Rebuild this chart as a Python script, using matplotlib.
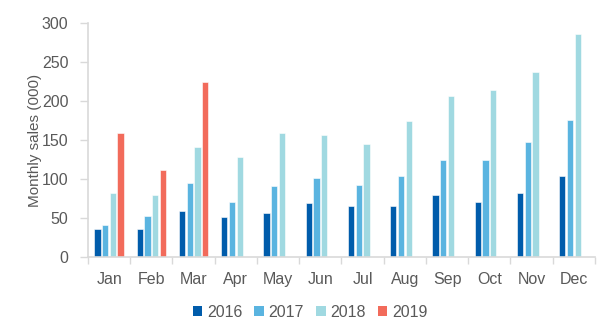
import matplotlib
matplotlib.use("Agg")
import matplotlib.pyplot as plt
import numpy as np
from matplotlib.patches import Patch

months = ["Jan", "Feb", "Mar", "Apr", "May", "Jun", "Jul", "Aug", "Sep", "Oct", "Nov", "Dec"]
s2016 = [36, 36, 59, 51, 56, 69, 65, 66, 79, 70, 82, 104]
s2017 = [41, 53, 95, 71, 91, 101, 92, 104, 124, 125, 148, 176]
s2018 = [82, 80, 141, 128, 159, 157, 145, 175, 206, 214, 237, 286]
s2019 = [159, 111, 224, np.nan, np.nan, np.nan, np.nan, np.nan, np.nan, np.nan, np.nan, np.nan]
series_names = ["2016", "2017", "2018", "2019"]
colors = ["#005CAB", "#5AB4E0", "#A0D9E1", "#F26B5B"]
yticks = [0, 50, 100, 150, 200, 250, 300]

plt.rcParams['font.family'] = ['Liberation Sans', 'DejaVu Sans']
txt = "#595959"
grid = "#D9D9D9"

fig = plt.figure(figsize=(6.14, 3.23), dpi=100)
ax = fig.add_axes([0.1433, 0.2043, 0.8257, 0.7245])

x = np.arange(len(months))
pitch = 0.182
bw = 0.15
for i, (vals, c, name) in enumerate(zip([s2016, s2017, s2018, s2019], colors, series_names)):
    ax.bar(x + (i - 1.5) * pitch, vals, width=bw, color=c, edgecolor="white", linewidth=0.4, label=name)

ax.set_xlim(-0.5, len(months) - 0.5)
ax.set_ylim(0, 300)
ax.set_yticks(yticks)
ax.set_yticklabels([str(t) for t in yticks])
ax.set_xticks(x)
ax.set_xticklabels(months)
ax.set_xticks(np.arange(-0.5, len(months)), minor=True)
ax.tick_params(axis='x', which='major', length=0, pad=11, labelsize=11.5, labelcolor=txt)
ax.tick_params(axis='x', which='minor', length=5, color=grid, width=1)
ax.tick_params(axis='y', length=6, color=grid, width=1, labelsize=11.5, labelcolor=txt, pad=8)

for s in ["top", "right"]:
    ax.spines[s].set_visible(False)
for s in ["left", "bottom"]:
    ax.spines[s].set_color(grid)
    ax.spines[s].set_linewidth(1.2)

ax.set_ylabel("Monthly sales (000)", fontsize=11, color=txt, labelpad=0)

handles = [Patch(facecolor=c, edgecolor="none") for c in colors]
fig.legend(handles, series_names, loc="lower center", bbox_to_anchor=(0.505, -0.035), ncol=4,
           frameon=False, fontsize=11.5, labelcolor=txt, handlelength=0.6, handleheight=0.6,
           handletextpad=0.3, columnspacing=0.75)

fig.savefig("out.png", dpi=100)
